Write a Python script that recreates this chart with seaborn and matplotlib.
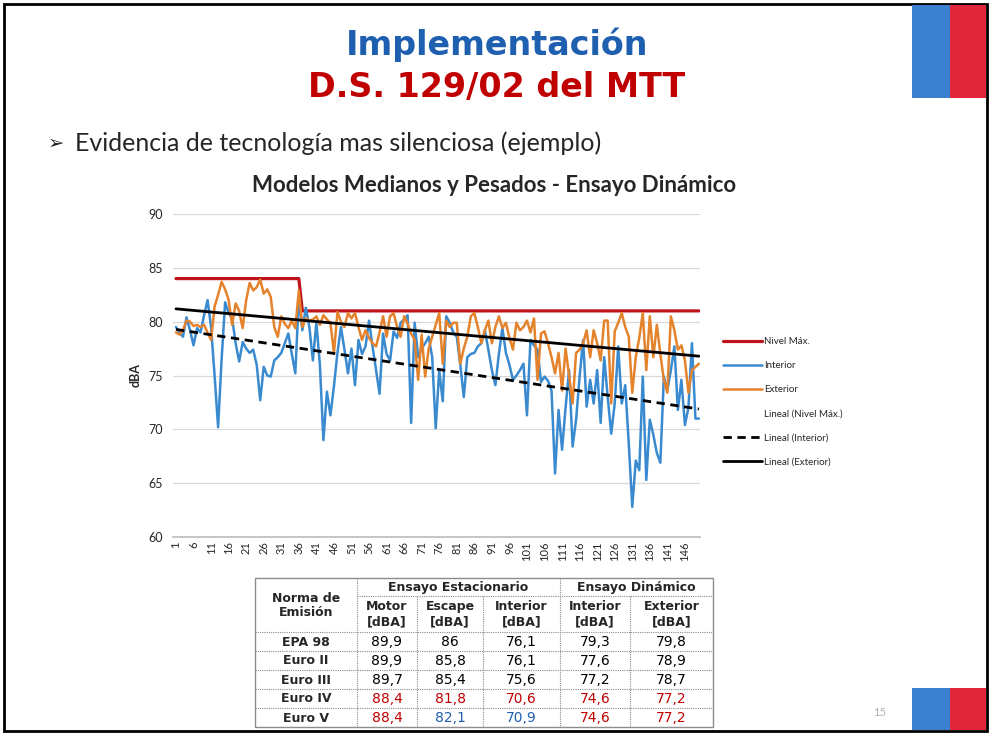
import numpy as np
import pandas as pd
import seaborn as sns
import matplotlib.pyplot as plt
from matplotlib.patches import Rectangle

# ensayo dinamico, muestras 1..150
muestras = list(range(1, 151))
nivel_max = [84] * 36 + [81] * 114
interior = [79.5, 79.0, 78.6, 80.4, 79.2, 77.8, 79.4, 79.0, 80.6, 82.0,
            79.5, 75.0, 70.2, 76.5, 81.8, 80.8, 80.3, 78.0, 76.3, 78.1,
            77.5, 77.1, 77.4, 76.0, 72.7, 75.8, 75.0, 74.9, 76.4, 76.7,
            77.1, 78.0, 78.9, 77.0, 75.2, 82.3, 79.2, 81.3, 79.5, 76.4,
            79.9, 76.0, 69.0, 73.5, 71.3, 74.0, 77.1, 79.5, 77.4, 75.2,
            77.5, 74.1, 78.3, 77.0, 77.7, 80.1, 77.7, 75.5, 73.3, 78.9,
            77.0, 76.4, 79.1, 78.5, 79.9, 80.2, 80.6, 70.6, 79.9, 76.7,
            77.5, 78.0, 78.6, 76.7, 70.1, 75.5, 72.6, 80.5, 79.9, 79.0,
            78.6, 76.0, 73.0, 76.7, 77.0, 77.1, 77.7, 78.0, 79.2, 77.4,
            75.5, 74.1, 77.0, 79.4, 77.1, 76.0, 74.6, 75.0, 75.5, 76.1,
            71.3, 78.3, 77.8, 77.4, 74.4, 74.9, 74.5, 73.6, 65.9, 71.8,
            68.1, 72.0, 75.5, 68.4, 70.9, 74.9, 78.3, 72.1, 74.6, 72.4,
            75.5, 70.6, 76.7, 73.0, 69.6, 72.4, 77.7, 72.4, 74.1, 68.7,
            62.8, 67.1, 66.2, 74.9, 65.3, 70.9, 69.5, 67.8, 66.9, 74.9,
            73.6, 75.5, 77.7, 71.8, 74.6, 70.4, 72.0, 78.0, 71.0, 71.0]
exterior = [79.0, 78.8, 79.2, 80.1, 80.0, 79.6, 79.7, 79.5, 79.7, 79.0,
            78.3, 81.4, 82.5, 83.7, 83.0, 82.0, 79.7, 81.7, 81.0, 79.4,
            82.0, 83.6, 82.9, 83.2, 83.9, 82.6, 83.0, 82.3, 79.5, 78.6,
            80.5, 79.8, 79.4, 80.1, 79.4, 82.9, 79.5, 80.3, 80.1, 80.2,
            80.5, 79.7, 80.6, 80.2, 79.9, 77.1, 80.9, 80.0, 79.5, 80.8,
            80.3, 80.8, 79.5, 78.3, 79.2, 78.5, 78.0, 77.7, 79.0, 80.5,
            78.6, 80.5, 80.8, 79.5, 78.6, 80.5, 79.8, 78.9, 78.3, 74.6,
            78.8, 74.9, 77.5, 78.6, 79.7, 80.8, 76.1, 80.1, 79.5, 79.9,
            79.9, 76.1, 77.5, 78.6, 80.5, 80.8, 79.5, 78.0, 79.2, 80.1,
            78.0, 79.5, 80.5, 79.4, 79.9, 78.5, 77.4, 79.9, 79.2, 79.5,
            80.1, 79.0, 80.3, 74.6, 78.9, 79.1, 78.0, 76.7, 75.2, 77.1,
            73.6, 77.5, 75.0, 72.4, 77.1, 77.4, 78.0, 79.2, 76.7, 79.2,
            78.0, 76.4, 80.1, 80.1, 72.4, 79.1, 79.9, 80.8, 79.5, 78.6,
            73.4, 76.7, 78.5, 80.8, 75.5, 80.5, 76.7, 79.7, 77.0, 74.6,
            73.4, 80.5, 79.2, 77.4, 77.8, 76.4, 73.4, 75.5, 75.8, 76.1]

# tabla resumen
normas = ["EPA 98", "Euro II", "Euro III", "Euro IV", "Euro V"]
motor = ["89,9", "89,9", "89,7", "88,4", "88,4"]
escape = ["86", "85,8", "85,4", "81,8", "82,1"]
interior_est = ["76,1", "76,1", "75,6", "70,6", "70,9"]
interior_din = ["79,3", "77,6", "77,2", "74,6", "74,6"]
exterior_din = ["79,8", "78,9", "78,7", "77,2", "77,2"]

RED = "#c0141c"
BLUE = "#3a8ad0"
ORANGE = "#e4832c"
T_RED = "#c00000"
T_BLUE = "#1f5fb0"

sns.set_theme(style="white")
plt.rcParams["font.family"] = ["Lato", "DejaVu Sans"]

fig = plt.figure(figsize=(9.9, 7.34), dpi=100)
fig.patch.set_facecolor("white")

# slide decoration, pixel coords
over = fig.add_axes([0, 0, 1, 1])
over.set_xlim(0, 990)
over.set_ylim(734, 0)
over.axis("off")
over.add_patch(Rectangle((4, 4), 983, 727, fill=False, ec="black", lw=2.0))
over.add_patch(Rectangle((912, 5), 38, 93, color="#3b7fcf", lw=0))
over.add_patch(Rectangle((950, 5), 36, 93, color="#e1263c", lw=0))
over.add_patch(Rectangle((912, 688), 38, 42, color="#3b7fcf", lw=0))
over.add_patch(Rectangle((950, 688), 36, 42, color="#e1263c", lw=0))
over.text(880, 712, "15", color="#b0b0b0", fontsize=8, ha="center", va="center")

over.text(497, 45, "Implementación", ha="center", va="center", fontsize=24,
          fontweight="bold", color=T_BLUE, family="DejaVu Sans")
over.text(497, 87, "D.S. 129/02 del MTT", ha="center", va="center", fontsize=24,
          fontweight="bold", color=T_RED, family="DejaVu Sans")
over.text(48, 143, "➢", ha="left", va="center", fontsize=14, family="DejaVu Sans")
over.text(75, 143, "Evidencia de tecnología mas silenciosa (ejemplo)",
          ha="left", va="center", fontsize=18)
over.text(494, 186, "Modelos Medianos y Pesados - Ensayo Dinámico",
          ha="center", va="center", fontsize=16, fontweight="bold")

# chart
ax = fig.add_axes([173 / 990, 1 - 537 / 734, 527 / 990, 323 / 734])
ax.set_facecolor("none")
sns.lineplot(x=muestras, y=nivel_max, color=RED, lw=2.3, label="Nivel Máx.", ax=ax)
sns.lineplot(x=muestras, y=interior, color=BLUE, lw=1.8, label="Interior", ax=ax)
sns.lineplot(x=muestras, y=exterior, color=ORANGE, lw=1.8, label="Exterior", ax=ax)
sns.regplot(x=muestras, y=nivel_max, scatter=False, ci=None, color="white",
            line_kws={"alpha": 0}, label="Lineal (Nivel Máx.)", ax=ax)
sns.regplot(x=muestras, y=interior, scatter=False, ci=None, color="black",
            line_kws={"ls": (0, (3, 2)), "lw": 2.0}, label="Lineal (Interior)", ax=ax)
sns.regplot(x=muestras, y=exterior, scatter=False, ci=None, color="black",
            line_kws={"lw": 2.0}, label="Lineal (Exterior)", ax=ax)

ax.set_xlim(0.15, 150.3)
ax.set_ylim(60, 90)
ax.set_yticks(range(60, 91, 5))
ax.set_xticks(muestras[::5])
ax.set_xticklabels([str(m) for m in muestras[::5]], rotation=90, fontsize=8)
ax.tick_params(axis="y", labelsize=9, length=0, pad=7)
ax.tick_params(axis="x", length=0, pad=3)
ax.yaxis.grid(True, color="#d9d9d9", lw=0.9)
ax.xaxis.grid(False)
for s in ["top", "right", "left"]:
    ax.spines[s].set_visible(False)
ax.spines["bottom"].set_color("#bfbfbf")
ax.set_xlabel("")
ax.set_ylabel("dBA", fontsize=9, fontweight="bold", labelpad=5)

ax.legend(loc="upper left", bbox_to_anchor=(723 / 990, 1 - 337 / 734),
          bbox_transform=fig.transFigure, frameon=False, fontsize=7,
          handlelength=4.0, handletextpad=0.2, labelspacing=1.55,
          borderpad=0, borderaxespad=0)

# table
xs = [255, 357, 417, 483, 560, 630, 713]
ys = [578, 596, 632, 651, 670, 689, 708, 727]
grid_kw = dict(color="#8c8c8c", lw=0.8, ls=(0, (1, 1)))
over.add_patch(Rectangle((xs[0], ys[0]), xs[-1] - xs[0], ys[-1] - ys[0],
                         fill=True, fc="white", ec="#8c8c8c", lw=1.0))
for x in [357, 560]:
    over.plot([x, x], [ys[0], ys[-1]], **grid_kw)
for x in [417, 483, 630]:
    over.plot([x, x], [ys[1], ys[-1]], **grid_kw)
over.plot([xs[1], xs[-1]], [ys[1], ys[1]], **grid_kw)
for y in ys[2:-1]:
    over.plot([xs[0], xs[-1]], [y, y], **grid_kw)

tkw = dict(ha="center", va="center", family="DejaVu Sans", fontsize=9)
over.text(306, 598, "Norma de", fontweight="bold", **tkw)
over.text(306, 612, "Emisión", fontweight="bold", **tkw)
over.text((357 + 560) / 2, 587.5, "Ensayo Estacionario", fontweight="bold", **tkw)
over.text((560 + 713) / 2, 587.5, "Ensayo Dinámico", fontweight="bold", **tkw)
heads = ["Motor", "Escape", "Interior", "Interior", "Exterior"]
for i, h in enumerate(heads):
    cx = (xs[i + 1] + xs[i + 2]) / 2
    over.text(cx, 606.5, h, fontweight="bold", **tkw)
    over.text(cx, 621.5, "[dBA]", fontweight="bold", **tkw)

cols = [motor, escape, interior_est, interior_din, exterior_din]
for r, norma in enumerate(normas):
    cy = (ys[r + 2] + ys[r + 3]) / 2 + 0.5
    over.text(306, cy, norma, fontweight="bold", **tkw)
    for c, col in enumerate(cols):
        color = "black"
        if norma == "Euro IV":
            color = T_RED
        elif norma == "Euro V":
            color = T_BLUE if c in (1, 2) else T_RED
        over.text((xs[c + 1] + xs[c + 2]) / 2, cy, col[r], color=color,
                  fontsize=10, ha="center", va="center", family="DejaVu Sans")

fig.savefig("out.png", dpi=100, facecolor="white")
